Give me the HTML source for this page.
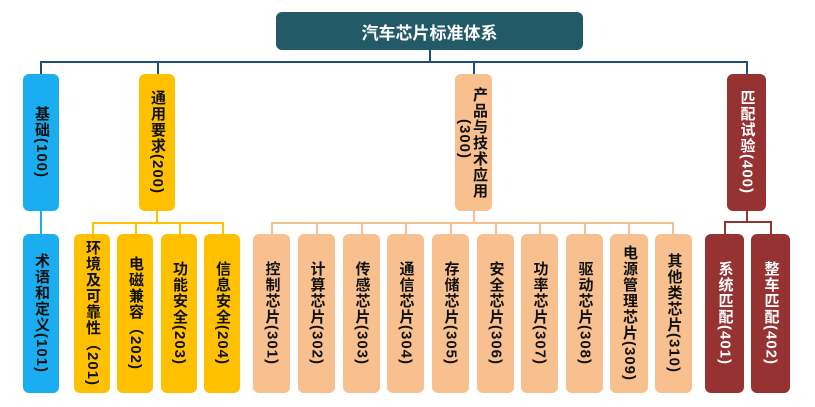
<!DOCTYPE html>
<html><head><meta charset="utf-8"><style>
body{margin:0;width:815px;height:407px;background:#fff;position:relative;overflow:hidden;font-family:"Liberation Sans","Noto Sans CJK SC",sans-serif;}
.b{position:absolute;border-radius:6px;display:flex;align-items:center;justify-content:center;}
.t{writing-mode:vertical-rl;font-weight:bold;font-size:15px;line-height:16px;color:#111;white-space:nowrap;letter-spacing:1px;}
.l{position:absolute;}
.top{top:74px;height:137px;}
.bot{top:234px;height:159px;}
.y{background:#ffc000}.p{background:#f8c08f}.r{background:#963232}.r .t{color:#fff}.bl{background:#1aaef0}
</style></head><body>
<div class="b" style="left:276px;top:12px;width:307px;height:38px;background:#235a68;"><span style="color:#fff;font-weight:bold;font-size:17px;">汽车芯片标准体系</span></div>
<div class="l" style="left:429px;top:50px;width:2px;height:13px;background:#1f4e78"></div>
<div class="l" style="left:41px;top:61px;width:707px;height:2px;background:#1f4e78"></div>
<div class="l" style="left:40px;top:61px;width:2px;height:14px;background:#1f4e78"></div>
<div class="l" style="left:157px;top:61px;width:2px;height:14px;background:#1f4e78"></div>
<div class="l" style="left:473px;top:61px;width:2px;height:14px;background:#1f4e78"></div>
<div class="l" style="left:746px;top:61px;width:2px;height:14px;background:#1f4e78"></div>
<div class="b top bl" style="left:23px;width:36px;"><span class="t">基础(100)</span></div>
<div class="b top y" style="left:139px;width:36px;"><span class="t">通用要求(200)</span></div>
<div class="b top p" style="left:455px;width:37px;"><span class="t" style="position:absolute;right:5px;top:13px;">产品与技术应用</span><span class="t" style="position:absolute;right:20px;top:45px;">(300)</span></div>
<div class="b top r" style="left:727px;width:39px;"><span class="t">匹配试验(400)</span></div>
<div class="l" style="left:40px;top:211px;width:2px;height:23px;background:#1aaef0"></div>
<div class="l" style="left:156px;top:211px;width:2px;height:12px;background:#ffc000"></div>
<div class="l" style="left:92px;top:222px;width:131px;height:2px;background:#ffc000"></div>
<div class="l" style="left:92px;top:222px;width:2px;height:12px;background:#ffc000"></div>
<div class="l" style="left:135px;top:222px;width:2px;height:12px;background:#ffc000"></div>
<div class="l" style="left:179px;top:222px;width:2px;height:12px;background:#ffc000"></div>
<div class="l" style="left:222px;top:222px;width:2px;height:12px;background:#ffc000"></div>
<div class="l" style="left:473px;top:211px;width:2px;height:12px;background:#f8c08f"></div>
<div class="l" style="left:271px;top:222px;width:403px;height:2px;background:#f8c08f"></div>
<div class="l" style="left:271px;top:222px;width:2px;height:12px;background:#f8c08f"></div>
<div class="l" style="left:316px;top:222px;width:2px;height:12px;background:#f8c08f"></div>
<div class="l" style="left:361px;top:222px;width:2px;height:12px;background:#f8c08f"></div>
<div class="l" style="left:405px;top:222px;width:2px;height:12px;background:#f8c08f"></div>
<div class="l" style="left:450px;top:222px;width:2px;height:12px;background:#f8c08f"></div>
<div class="l" style="left:495px;top:222px;width:2px;height:12px;background:#f8c08f"></div>
<div class="l" style="left:539px;top:222px;width:2px;height:12px;background:#f8c08f"></div>
<div class="l" style="left:584px;top:222px;width:2px;height:12px;background:#f8c08f"></div>
<div class="l" style="left:628px;top:222px;width:2px;height:12px;background:#f8c08f"></div>
<div class="l" style="left:672px;top:222px;width:2px;height:12px;background:#f8c08f"></div>
<div class="l" style="left:746px;top:211px;width:2px;height:12px;background:#963232"></div>
<div class="l" style="left:724px;top:221px;width:48px;height:2px;background:#963232"></div>
<div class="l" style="left:724px;top:221px;width:2px;height:13px;background:#963232"></div>
<div class="l" style="left:770px;top:221px;width:2px;height:13px;background:#963232"></div>
<div class="b bot bl" style="left:23px;width:36px;"><span class="t">术语和定义(101)</span></div>
<div class="b bot y" style="left:74px;width:36px;"><span class="t">环境及可靠性（201)</span></div>
<div class="b bot y" style="left:117px;width:36px;"><span class="t">电磁兼容（202)</span></div>
<div class="b bot y" style="left:161px;width:36px;"><span class="t">功能安全(203)</span></div>
<div class="b bot y" style="left:204px;width:36px;"><span class="t">信息安全(204)</span></div>
<div class="b bot p" style="left:253px;width:37px;"><span class="t">控制芯片(301)</span></div>
<div class="b bot p" style="left:298px;width:37px;"><span class="t">计算芯片(302)</span></div>
<div class="b bot p" style="left:343px;width:37px;"><span class="t">传感芯片(303)</span></div>
<div class="b bot p" style="left:387px;width:37px;"><span class="t">通信芯片(304)</span></div>
<div class="b bot p" style="left:432px;width:37px;"><span class="t">存储芯片(305)</span></div>
<div class="b bot p" style="left:477px;width:37px;"><span class="t">安全芯片(306)</span></div>
<div class="b bot p" style="left:521px;width:37px;"><span class="t">功率芯片(307)</span></div>
<div class="b bot p" style="left:566px;width:37px;"><span class="t">驱动芯片(308)</span></div>
<div class="b bot p" style="left:610px;width:38px;"><span class="t">电源管理芯片(309)</span></div>
<div class="b bot p" style="left:655px;width:37px;"><span class="t">其他类芯片(310)</span></div>
<div class="b bot r" style="left:705px;width:39px;"><span class="t">系统匹配(401)</span></div>
<div class="b bot r" style="left:751px;width:39px;"><span class="t">整车匹配(402)</span></div>
</body></html>
